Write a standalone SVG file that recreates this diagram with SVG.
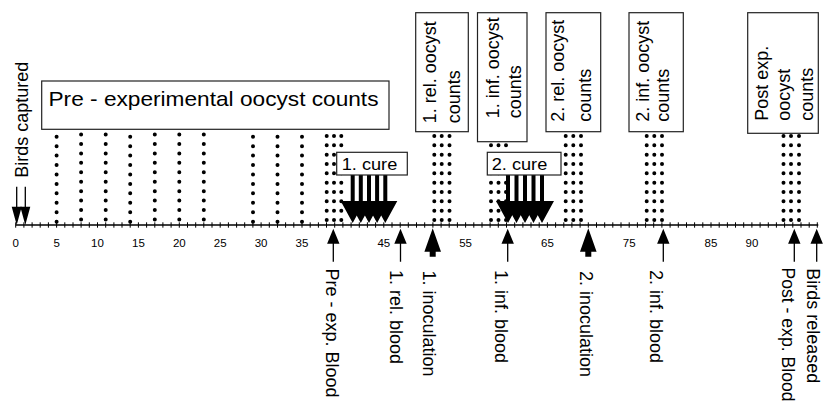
<svg xmlns="http://www.w3.org/2000/svg" width="832" height="406" viewBox="0 0 832 406">
<style>
text{font-family:"Liberation Sans",Arial,Helvetica,sans-serif;fill:#000}
.box{fill:#fff;stroke:#222;stroke-width:1.2}
.axis{stroke:#000;stroke-width:1.5;fill:none}
.tick{stroke:#000;stroke-width:1}
.num{font-size:11.5px;text-anchor:middle}
.lbl{font-size:18px}
.blbl{font-size:18px}
.d1{stroke:#000;stroke-width:4;stroke-linecap:round;stroke-dasharray:0 9.44;fill:none}
.d3{stroke:#000;stroke-width:4;stroke-linecap:round;stroke-dasharray:0 9.333;fill:none}
</style>
<defs>
<path id="cureArrow" d="M-2,0 H2 V26 H12 L0,48 L-12,26 H-2 Z"/>
<path id="upArrow" d="M0,0 L6.2,15 H0.65 V33 H-0.65 V15 H-6.2 Z"/>
<path id="bigUp" d="M0,0 L8.3,23.4 H3 V28.4 H-3 V23.4 H-8.3 Z"/>
<path id="downArrow" d="M-0.65,0 H0.65 V20 H5 L0,38.3 L-5,20 H-0.65 Z"/>
</defs>

<!-- dotted sampling columns -->
<g id="dots">
<line class="d1" x1="56.6" y1="136.7" x2="56.6" y2="221.7"/>
<line class="d1" x1="81.1" y1="134.5" x2="81.1" y2="228.9"/>
<line class="d1" x1="105.7" y1="134.5" x2="105.7" y2="228.9"/>
<line class="d1" x1="130.2" y1="136.7" x2="130.2" y2="221.7"/>
<line class="d1" x1="154.8" y1="134.5" x2="154.8" y2="228.9"/>
<line class="d1" x1="179.3" y1="134.5" x2="179.3" y2="228.9"/>
<line class="d1" x1="203.8" y1="134.5" x2="203.8" y2="228.9"/>
<line class="d1" x1="253" y1="136.7" x2="253" y2="221.7"/>
<line class="d1" x1="277.5" y1="136.7" x2="277.5" y2="221.7"/>
<line class="d1" x1="302" y1="136.7" x2="302" y2="221.7"/>
<line class="d3" x1="326.7" y1="136" x2="326.7" y2="220"/>
<line class="d3" x1="334" y1="136" x2="334" y2="220"/>
<line class="d3" x1="341.3" y1="136" x2="341.3" y2="220"/>
<line class="d3" x1="434.3" y1="136" x2="434.3" y2="220"/>
<line class="d3" x1="441.7" y1="136" x2="441.7" y2="220"/>
<line class="d3" x1="449.5" y1="136" x2="449.5" y2="220"/>
<line class="d3" x1="491" y1="145.3" x2="491" y2="220"/>
<line class="d3" x1="498.5" y1="145.3" x2="498.5" y2="220"/>
<line class="d3" x1="506" y1="145.3" x2="506" y2="220"/>
<line class="d3" x1="565.7" y1="136" x2="565.7" y2="220"/>
<line class="d3" x1="573.3" y1="136" x2="573.3" y2="220"/>
<line class="d3" x1="581" y1="136" x2="581" y2="220"/>
<line class="d3" x1="646.7" y1="136" x2="646.7" y2="220"/>
<line class="d3" x1="654.3" y1="136" x2="654.3" y2="220"/>
<line class="d3" x1="662" y1="136" x2="662" y2="220"/>
<line class="d3" x1="783.5" y1="136" x2="783.5" y2="220"/>
<line class="d3" x1="791" y1="136" x2="791" y2="220"/>
<line class="d3" x1="799" y1="136" x2="799" y2="220"/>
</g>

<!-- time axis -->
<g id="axis">
<line class="axis" x1="15.7" y1="225" x2="818.3" y2="225"/>
<path class="tick" d="M15.7,222.3V227.7M23.9,222.3V227.7M32.1,222.3V227.7M40.2,222.3V227.7M48.4,222.3V227.7M56.6,222.3V227.7M64.8,222.3V227.7M73,222.3V227.7M81.1,222.3V227.7M89.3,222.3V227.7M97.5,222.3V227.7M105.7,222.3V227.7M113.9,222.3V227.7M122,222.3V227.7M130.2,222.3V227.7M138.4,222.3V227.7M146.6,222.3V227.7M154.8,222.3V227.7M162.9,222.3V227.7M171.1,222.3V227.7M179.3,222.3V227.7M187.5,222.3V227.7M195.7,222.3V227.7M203.8,222.3V227.7M212,222.3V227.7M220.2,222.3V227.7M228.4,222.3V227.7M236.6,222.3V227.7M244.7,222.3V227.7M252.9,222.3V227.7M261.1,222.3V227.7M269.3,222.3V227.7M277.5,222.3V227.7M285.6,222.3V227.7M293.8,222.3V227.7M302,222.3V227.7M310.2,222.3V227.7M318.4,222.3V227.7M326.5,222.3V227.7M334.7,222.3V227.7M342.9,222.3V227.7M351.1,222.3V227.7M359.3,222.3V227.7M367.4,222.3V227.7M375.6,222.3V227.7M383.8,222.3V227.7M392,222.3V227.7M400.2,222.3V227.7M408.3,222.3V227.7M416.5,222.3V227.7M424.7,222.3V227.7M432.9,222.3V227.7M441.1,222.3V227.7M449.2,222.3V227.7M457.4,222.3V227.7M465.6,222.3V227.7M473.8,222.3V227.7M482,222.3V227.7M490.1,222.3V227.7M498.3,222.3V227.7M506.5,222.3V227.7M514.7,222.3V227.7M522.9,222.3V227.7M531,222.3V227.7M539.2,222.3V227.7M547.4,222.3V227.7M555.6,222.3V227.7M563.8,222.3V227.7M571.9,222.3V227.7M580.1,222.3V227.7M588.3,222.3V227.7M596.5,222.3V227.7M604.7,222.3V227.7M612.8,222.3V227.7M621,222.3V227.7M629.2,222.3V227.7M637.4,222.3V227.7M645.6,222.3V227.7M653.7,222.3V227.7M661.9,222.3V227.7M670.1,222.3V227.7M678.3,222.3V227.7M686.5,222.3V227.7M694.6,222.3V227.7M702.8,222.3V227.7M711,222.3V227.7M719.2,222.3V227.7M727.4,222.3V227.7M735.5,222.3V227.7M743.7,222.3V227.7M751.9,222.3V227.7M760.1,222.3V227.7M768.3,222.3V227.7M776.4,222.3V227.7M784.6,222.3V227.7M792.8,222.3V227.7M801,222.3V227.7M809.2,222.3V227.7M817.3,222.3V227.7"/>
<text class="num" x="15.7" y="246.5">0</text>
<text class="num" x="56.6" y="246.5">5</text>
<text class="num" x="97.5" y="246.5">10</text>
<text class="num" x="138.4" y="246.5">15</text>
<text class="num" x="179.3" y="246.5">20</text>
<text class="num" x="220.2" y="246.5">25</text>
<text class="num" x="261.1" y="246.5">30</text>
<text class="num" x="302" y="246.5">35</text>
<text class="num" x="383.8" y="246.5">45</text>
<text class="num" x="465.6" y="246.5">55</text>
<text class="num" x="547.4" y="246.5">65</text>
<text class="num" x="629.2" y="246.5">75</text>
<text class="num" x="711" y="246.5">85</text>
<text class="num" x="751.9" y="246.5">90</text>
</g>

<!-- top boxes -->
<g id="pre-counts">
<rect class="box" x="41.7" y="81" width="347.3" height="48.3"/>
<text x="48.5" y="105.7" font-size="21" textLength="330" lengthAdjust="spacingAndGlyphs">Pre - experimental oocyst counts</text>
</g>
<g id="rel1-counts">
<rect class="box" x="415.7" y="12.7" width="52.6" height="119"/>
<text class="blbl" transform="translate(436,123.3) rotate(-90)">1. rel. oocyst</text>
<text class="blbl" transform="translate(460,123.3) rotate(-90)">counts</text>
</g>
<g id="inf1-counts">
<rect class="box" x="477.5" y="12.7" width="49.5" height="129"/>
<text class="blbl" transform="translate(498.5,118.3) rotate(-90)">1. inf. oocyst</text>
<text class="blbl" transform="translate(520.5,118.3) rotate(-90)">counts</text>
</g>
<g id="rel2-counts">
<rect class="box" x="546" y="12.7" width="54.7" height="119"/>
<text class="blbl" transform="translate(564,121.7) rotate(-90)">2. rel. oocyst</text>
<text class="blbl" transform="translate(591,121.7) rotate(-90)">counts</text>
</g>
<g id="inf2-counts">
<rect class="box" x="629" y="12.7" width="54.3" height="119"/>
<text class="blbl" transform="translate(649,121.7) rotate(-90)">2. inf. oocyst</text>
<text class="blbl" transform="translate(668.5,121.7) rotate(-90)">counts</text>
</g>
<g id="post-counts">
<rect class="box" x="747.7" y="12.7" width="70.6" height="120.6"/>
<text class="blbl" transform="translate(767.5,120.7) rotate(-90)">Post exp.</text>
<text class="blbl" transform="translate(790,120.7) rotate(-90)">oocyst</text>
<text class="blbl" transform="translate(813,120.7) rotate(-90)">counts</text>
</g>

<!-- arrows / connectors -->
<g id="connectors">
<use href="#downArrow" x="16.7" y="186.7"/>
<use href="#downArrow" x="25.3" y="186.7"/>
<use href="#cureArrow" x="352.7" y="175"/>
<use href="#cureArrow" x="360.8" y="175"/>
<use href="#cureArrow" x="369" y="175"/>
<use href="#cureArrow" x="377.1" y="175"/>
<use href="#cureArrow" x="385.3" y="175"/>
<use href="#cureArrow" x="508" y="175"/>
<use href="#cureArrow" x="516.5" y="175"/>
<use href="#cureArrow" x="525" y="175"/>
<use href="#cureArrow" x="533.5" y="175"/>
<use href="#cureArrow" x="542" y="175"/>
<use href="#upArrow" x="333.3" y="228.7"/>
<use href="#upArrow" x="400.5" y="228.7"/>
<use href="#bigUp" x="432.7" y="228.3"/>
<use href="#upArrow" x="507.7" y="228.7"/>
<use href="#bigUp" x="588.3" y="228.3"/>
<use href="#upArrow" x="663.3" y="228.7"/>
<use href="#upArrow" x="794.3" y="228.7"/>
<use href="#upArrow" x="816.7" y="228.7"/>
</g>

<!-- cure boxes (on top of dots) -->
<g id="cure1">
<rect class="box" x="336.7" y="152.3" width="70.6" height="22.7"/>
<text x="341.7" y="169.5" font-size="16.5" textLength="55.6" lengthAdjust="spacingAndGlyphs">1. cure</text>
</g>
<g id="cure2">
<rect class="box" x="487.3" y="152.3" width="73.7" height="22.7"/>
<text x="491.7" y="169.5" font-size="16.5" textLength="55.6" lengthAdjust="spacingAndGlyphs">2. cure</text>
</g>

<!-- event labels -->
<g id="birds-captured"><text font-size="18" transform="translate(28,177.7) rotate(-90)">Birds captured</text></g>
<g id="pre-blood"><text class="lbl" transform="translate(325.5,268.5) rotate(90)">Pre - exp. Blood</text></g>
<g id="rel1-blood"><text class="lbl" transform="translate(390,270) rotate(90)">1. rel. blood</text></g>
<g id="inoc1"><text class="lbl" transform="translate(423,270.5) rotate(90)">1. inoculation</text></g>
<g id="inf1-blood"><text class="lbl" transform="translate(495,270) rotate(90)">1. inf. blood</text></g>
<g id="inoc2"><text class="lbl" transform="translate(580,271) rotate(90)">2. inoculation</text></g>
<g id="inf2-blood"><text class="lbl" transform="translate(650,270) rotate(90)">2. inf. blood</text></g>
<g id="post-blood"><text class="lbl" font-size="17.6" transform="translate(781.5,267.5) rotate(90)" style="font-size:17.6px">Post - exp. Blood</text></g>
<g id="birds-released"><text class="lbl" transform="translate(807,268.3) rotate(90)">Birds released</text></g>
</svg>
